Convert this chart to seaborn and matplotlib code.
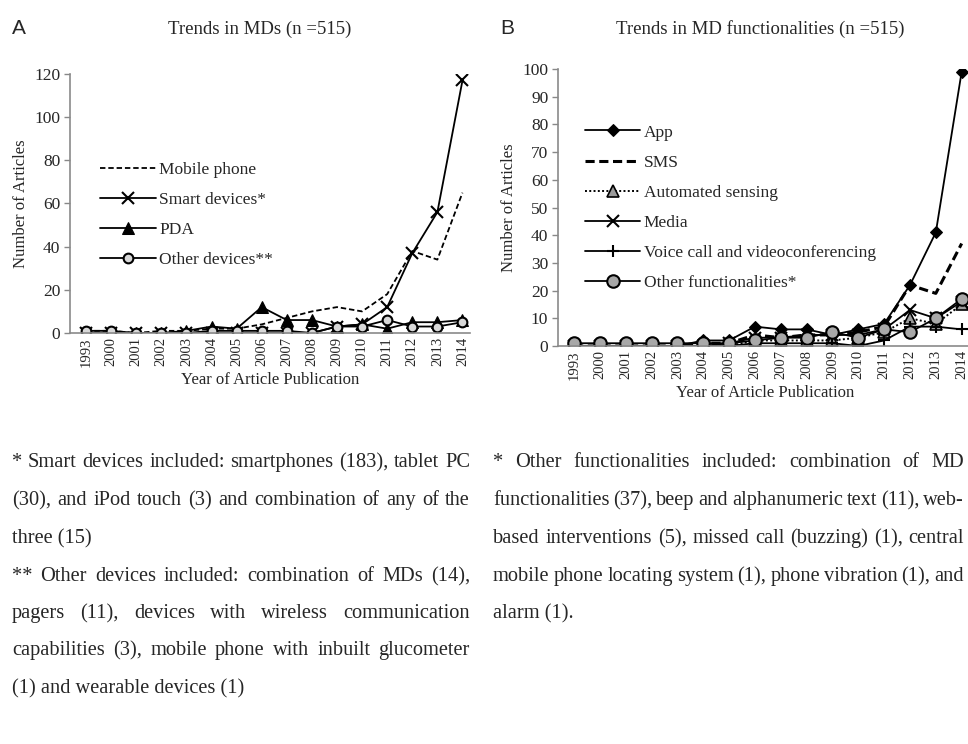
import numpy as np
import pandas as pd
import matplotlib
matplotlib.use("Agg")
import matplotlib.pyplot as plt
import seaborn as sns

# ---------------- data ----------------
years = ["1993", "2000", "2001", "2002", "2003", "2004", "2005", "2006",
         "2007", "2008", "2009", "2010", "2011", "2012", "2013", "2014"]

# Panel A: devices
mobile_phone = [1, 1, 0, 1, 1, 2, 2, 4, 7, 10, 12, 10, 18, 38, 34, 65]
smart_devices = [0, 0, 0, 0, 0, 0, 0, 0, 0, 0, 3, 4, 12, 37, 56, 117]
pda = [0, 0, 0, 0, 1, 3, 2, 12, 6, 6, 3, 4, 2, 5, 5, 6]
other_devices = [1, 1, 0, 0, 0, 1, 1, 1, 1, 0, 3, 3, 6, 3, 3, 5]

# Panel B: functionalities
app = [0, 0, 0, 0, 0, 2, 2, 7, 6, 6, 4, 6, 8, 22, 41, 99]
sms = [0, 0, 0, 0, 0, 1, 1, 4, 3, 4, 4, 5, 7, 22, 19, 37]
automated_sensing = [0, 0, 0, 0, 0, 0, 0, 2, 2, 2, 2, 3, 5, 10, 8, 15]
media = [0, 0, 0, 0, 0, 0, 1, 3, 3, 4, 4, 4, 6, 13, 10, 16]
voice_call = [0, 0, 0, 0, 0, 0, 0, 1, 1, 1, 1, 0, 2, 7, 7, 6]
other_functionalities = [1, 1, 1, 1, 1, 1, 1, 2, 3, 3, 5, 3, 6, 5, 10, 17]

labels_a = ["Mobile phone", "Smart devices*", "PDA", "Other devices**"]
labels_b = ["App", "SMS", "Automated sensing", "Media",
            "Voice call and videoconferencing", "Other functionalities*"]

notes_a = [
    ("* Smart devices included: smartphones (183), tablet PC", True),
    ("(30), and iPod touch (3) and combination of any of the", True),
    ("three (15)", False),
    ("** Other devices included: combination of MDs (14),", True),
    ("pagers (11), devices with wireless communication", True),
    ("capabilities (3), mobile phone with inbuilt glucometer", True),
    ("(1) and wearable devices (1)", False),
]
notes_b = [
    ("* Other functionalities included: combination of MD", True),
    ("functionalities (37), beep and alphanumeric text (11), web-", True),
    ("based interventions (5), missed call (buzzing) (1), central", True),
    ("mobile phone locating system (1), phone vibration (1), and", True),
    ("alarm (1).", False),
]

# ---------------- tables ----------------
def long_table(names, series):
    rows = []
    for name, vals in zip(names, series):
        for i, (yr, v) in enumerate(zip(years, vals)):
            rows.append({"series": name, "pos": i, "year": yr, "value": v})
    return pd.DataFrame(rows)

df_a = long_table(labels_a, [mobile_phone, smart_devices, pda, other_devices])
df_b = long_table(labels_b, [app, sms, automated_sensing, media, voice_call,
                             other_functionalities])

# ---------------- style ----------------
sns.set_theme(style="white")
SERIF = ["Liberation Serif", "DejaVu Serif"]
SANS = ["Liberation Sans", "DejaVu Sans"]
plt.rcParams["font.family"] = SERIF

W, H = 968, 744
fig = plt.figure(figsize=(W / 100, H / 100), dpi=100)

def px_axes(left, top, right, bottom):
    return fig.add_axes([left / W, 1 - bottom / H, (right - left) / W, (bottom - top) / H])

ax_a = px_axes(70, 74, 470, 333)
ax_b = px_axes(558, 69, 972, 346)

style_a = {
    "Mobile phone": dict(linestyle=(0, (3, 1.6)), linewidth=1.3, marker=None),
    "Smart devices*": dict(linestyle="-", linewidth=1.3, marker="x", markersize=8,
                           markeredgewidth=1.5),
    "PDA": dict(linestyle="-", linewidth=1.3, marker="^", markersize=8,
                markerfacecolor="black"),
    "Other devices**": dict(linestyle="-", linewidth=1.3, marker="o", markersize=7,
                            markerfacecolor="#d8d8d8", markeredgewidth=1.5),
}
style_b = {
    "App": dict(linestyle="-", linewidth=1.3, marker="D", markersize=6,
                markerfacecolor="black"),
    "SMS": dict(linestyle=(0, (3, 1.5)), linewidth=2.2, marker=None),
    "Automated sensing": dict(linestyle=(0, (1, 1.2)), linewidth=1.4, marker="^",
                              markersize=8, markerfacecolor="#9a9a9a",
                              markeredgewidth=1.2),
    "Media": dict(linestyle="-", linewidth=1.3, marker="x", markersize=8,
                  markeredgewidth=1.5),
    "Voice call and videoconferencing": dict(linestyle="-", linewidth=1.3, marker="+",
                                             markersize=9, markeredgewidth=1.5),
    "Other functionalities*": dict(linestyle="-", linewidth=1.3, marker="o",
                                   markersize=9, markerfacecolor="#a8a8a8",
                                   markeredgewidth=1.5),
}

def draw(ax, df, names, styles, ymax, ystep):
    for name in names:
        sub = df[df["series"] == name]
        sns.lineplot(data=sub, x="pos", y="value", ax=ax, color="black",
                     markeredgecolor="black", label=name, sort=False,
                     errorbar=None, **styles[name])
    ax.set_xlim(-0.64, 15.3)
    ax.set_ylim(0, ymax)
    ax.set_yticks(np.arange(0, ymax + 1, ystep))
    ax.set_xticks(range(len(years)))
    ax.set_xticklabels(years, rotation=90, fontsize=10.5)
    ax.tick_params(axis="y", labelsize=12.5, length=4, width=1, color="#888888",
                   direction="out", left=True, pad=3)
    ax.tick_params(axis="x", length=0, pad=3)
    for s in ["top", "right"]:
        ax.spines[s].set_visible(False)
    for s in ["left", "bottom"]:
        ax.spines[s].set_color("#8a8a8a")
        ax.spines[s].set_linewidth(1.2)
    ax.set_ylabel("Number of Articles", fontsize=12, labelpad=4)
    ax.set_xlabel("Year of Article Publication", fontsize=12, labelpad=4)

draw(ax_a, df_a, labels_a, style_a, 120, 20)
draw(ax_b, df_b, labels_b, style_b, 100, 10)
ax_b.set_xlim(-0.62, 15.4)

leg_kw = dict(loc="upper left", frameon=False, handlelength=3.2, handletextpad=0.2,
              labelspacing=0.8, fontsize=12.5, borderaxespad=0, borderpad=0)
ax_a.legend(bbox_to_anchor=(0.075, 0.66), **leg_kw)
ax_b.legend(bbox_to_anchor=(0.065, 0.80), **leg_kw)

# ---------------- titles ----------------
fig.text(12 / W, 1 - 29 / H, "A", family=SANS, fontsize=15, va="center", ha="left")
fig.text(260 / W, 1 - 29 / H, "Trends in MDs (n =515)", fontsize=13.5,
         va="center", ha="center")
fig.text(500 / W, 1 - 29 / H, "B", family=SANS, fontsize=15, va="center", ha="left")
fig.text(760 / W, 1 - 29 / H, "Trends in MD functionalities (n =515)", fontsize=13.5,
         va="center", ha="center")

# ---------------- footnotes (justified) ----------------
renderer = fig.canvas.get_renderer()

# fit the footnote font size so the first line fills its column naturally
probe = fig.text(0, 0, notes_a[0][0], fontsize=10)
natural = probe.get_window_extent(renderer=renderer).width
probe.remove()
FS = 10 * (470 - 12) / natural * 0.99

def put_line(x0, x1, y, text, just, fs=FS):
    yb = y + 5  # baseline
    words = text.split()
    if not just or len(words) < 2:
        fig.text(x0 / W, 1 - yb / H, text, fontsize=fs, va="baseline", ha="left")
        return
    items = []
    for w in words:
        t = fig.text(0, 0, w, fontsize=fs, va="baseline", ha="left")
        items.append((t, t.get_window_extent(renderer=renderer).width))
    gap = (x1 - x0 - sum(wd for _, wd in items)) / (len(words) - 1)
    x = x0
    for t, wd in items:
        t.set_position((x / W, 1 - yb / H))
        x += wd + gap

line_ys = [462, 500, 538, 576, 613, 650, 688]
for (txt, j), y in zip(notes_a, line_ys):
    put_line(12, 470, y, txt, j)
for (txt, j), y in zip(notes_b, line_ys):
    put_line(493, 964, y, txt, j)

fig.savefig("out.png", dpi=100)
